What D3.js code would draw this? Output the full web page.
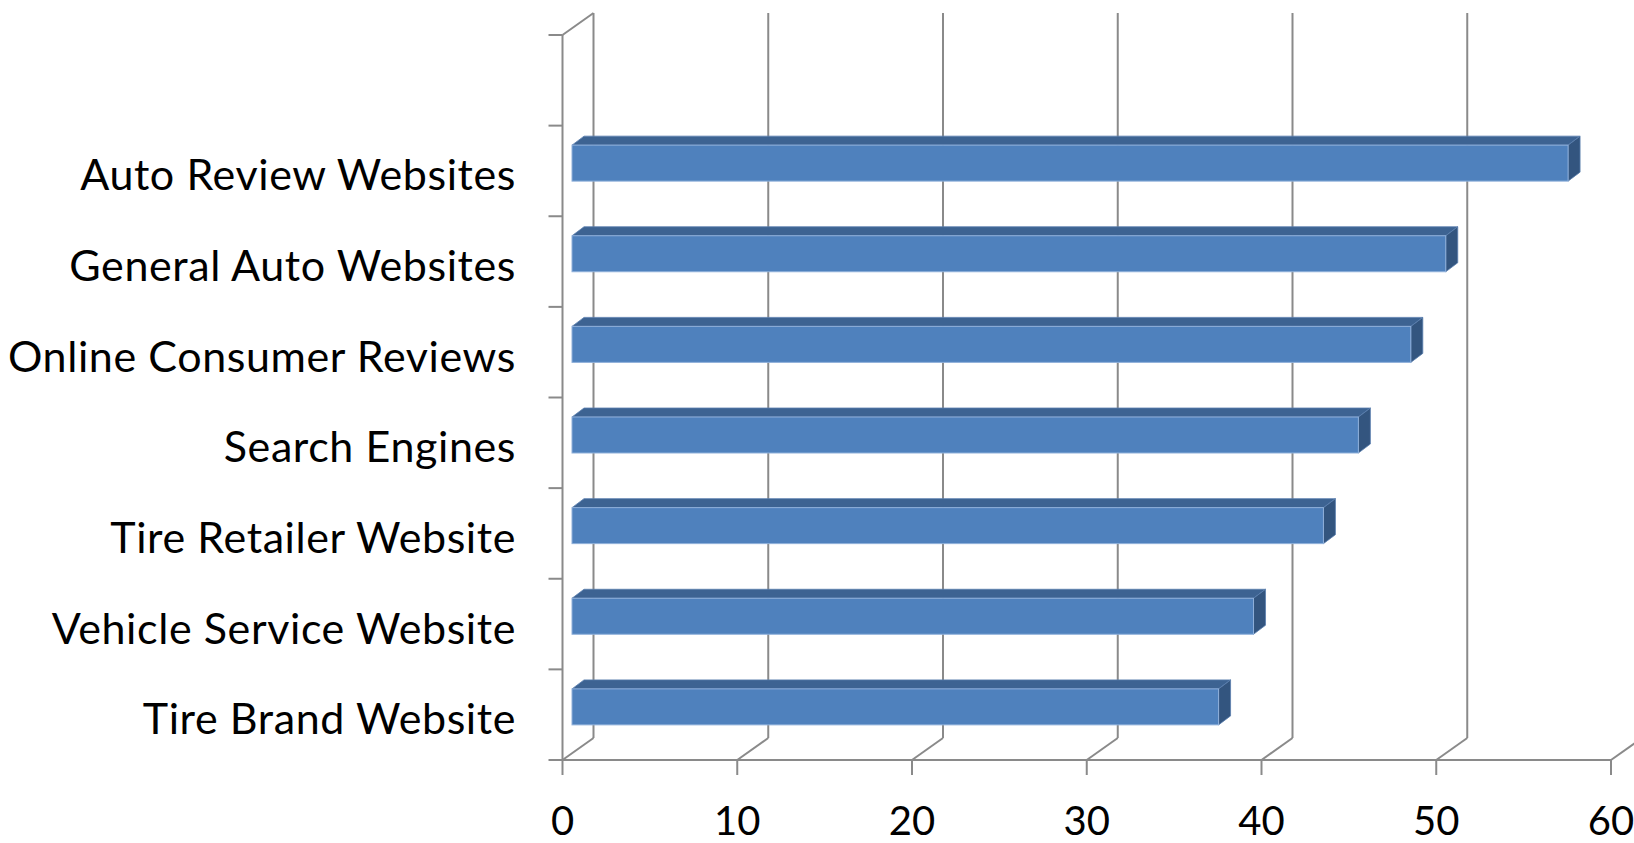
<!DOCTYPE html>
<html>
<head>
<meta charset="utf-8">
<script src="https://cdn.jsdelivr.net/npm/d3@7"></script>
<style>
  html, body { margin: 0; padding: 0; background: #fff; }
  svg { display: block; }
</style>
</head>
<body>
<svg id="chart" width="1634" height="843"></svg>
<script>
// ---- data ----
const categories = [
  "Auto Review Websites",
  "General Auto Websites",
  "Online Consumer Reviews",
  "Search Engines",
  "Tire Retailer Website",
  "Vehicle Service Website",
  "Tire Brand Website"
];
const values = [57, 50, 48, 45, 43, 39, 37];
const xTicks = [0, 10, 20, 30, 40, 50, 60];

// ---- layout ----
const W = 1634, H = 843;
const svg = d3.select("#chart");
svg.append("rect").attr("width", W).attr("height", H).attr("fill", "#fff");

const x = d3.scaleLinear().domain([0, 60]).range([562.5, 1611]);
// one empty slot at the top, as in the original
const y = d3.scaleBand().domain(["__empty__", ...categories]).range([35, 760]);

const wall = { dx: 31, dy: -22 };      // depth of the plot box
const barDepth = { dx: 12, dy: -9 };   // depth of each bar
const barShift = 9.5;                  // bar front face sits slightly inside the box
const barTop = 19.5, barH = 36;
const gridColor = "#8a8a8a";
const yBottom = y.range()[1];
const yTop = y.range()[0];

const g = svg.append("g");

// back vertical gridlines + floor diagonals
const grid = g.append("g");
xTicks.forEach(v => {
  const fx = x(v);
  grid.append("line")
    .attr("x1", fx + wall.dx).attr("x2", fx + wall.dx)
    .attr("y1", yTop + wall.dy).attr("y2", yBottom + wall.dy)
    .attr("stroke", gridColor).attr("stroke-width", 2);
  grid.append("line")
    .attr("x1", fx).attr("y1", yBottom)
    .attr("x2", fx + wall.dx).attr("y2", yBottom + wall.dy)
    .attr("stroke", gridColor).attr("stroke-width", 2);
});
// top-left diagonal of the side wall
grid.append("line")
  .attr("x1", x(0)).attr("y1", yTop)
  .attr("x2", x(0) + wall.dx).attr("y2", yTop + wall.dy)
  .attr("stroke", gridColor).attr("stroke-width", 2);

// front vertical (category) axis
g.append("line")
  .attr("x1", x(0)).attr("x2", x(0))
  .attr("y1", yTop).attr("y2", yBottom)
  .attr("stroke", gridColor).attr("stroke-width", 2);
// category tick marks at band boundaries
const boundaries = y.domain().map(d => y(d)).concat([yBottom]);
g.selectAll(".ctick").data(boundaries).enter().append("line")
  .attr("x1", x(0) - 14).attr("x2", x(0))
  .attr("y1", d => d).attr("y2", d => d)
  .attr("stroke", gridColor).attr("stroke-width", 2);

// bottom value axis
g.append("line")
  .attr("x1", x(0)).attr("x2", x(60))
  .attr("y1", yBottom).attr("y2", yBottom)
  .attr("stroke", gridColor).attr("stroke-width", 2);
g.selectAll(".vtick").data(xTicks).enter().append("line")
  .attr("x1", d => x(d)).attr("x2", d => x(d))
  .attr("y1", yBottom).attr("y2", yBottom + 15)
  .attr("stroke", gridColor).attr("stroke-width", 2);

// value tick labels
g.selectAll(".vlabel").data(xTicks).enter().append("text")
  .attr("x", d => x(d)).attr("y", 835)
  .attr("text-anchor", "middle")
  .attr("font-family", "Lato, 'Open Sans', sans-serif")
  .attr("font-size", 40)
  .attr("fill", "#000")
  .text(d => d);

// category labels
g.selectAll(".clabel").data(categories).enter().append("text")
  .attr("x", 516)
  .attr("y", d => y(d) + y.bandwidth() / 2 + 19.5)
  .attr("text-anchor", "end")
  .attr("font-family", "Lato, 'Open Sans', sans-serif")
  .attr("font-size", 43)
  .attr("letter-spacing", 0.6)
  .attr("fill", "#000")
  .text(d => d);

// bars (3D)
const data = categories.map((c, i) => ({ c, v: values[i] }));
const bars = g.selectAll(".bar").data(data).enter().append("g");
bars.each(function(d) {
  const s = d3.select(this);
  const x0 = x(0) + barShift, x1 = x(d.v) + barShift;
  const y0 = y(d.c) + barTop, y1 = y0 + barH;
  const ddx = barDepth.dx, ddy = barDepth.dy;
  // top face
  s.append("path")
    .attr("d", `M${x0},${y0}L${x0 + ddx},${y0 + ddy}L${x1 + ddx},${y0 + ddy}L${x1},${y0}Z`)
    .attr("fill", "#3d6392").attr("stroke", "#5a7fae").attr("stroke-width", 0.8);
  // side face
  s.append("path")
    .attr("d", `M${x1},${y0}L${x1 + ddx},${y0 + ddy}L${x1 + ddx},${y1 + ddy}L${x1},${y1}Z`)
    .attr("fill", "#33557f").attr("stroke", "#5a7fae").attr("stroke-width", 0.8);
  // front face
  s.append("rect")
    .attr("x", x0).attr("y", y0).attr("width", x1 - x0).attr("height", barH)
    .attr("fill", "#4f81bd").attr("stroke", "#8fb0da").attr("stroke-width", 1);
});
</script>
</body>
</html>
